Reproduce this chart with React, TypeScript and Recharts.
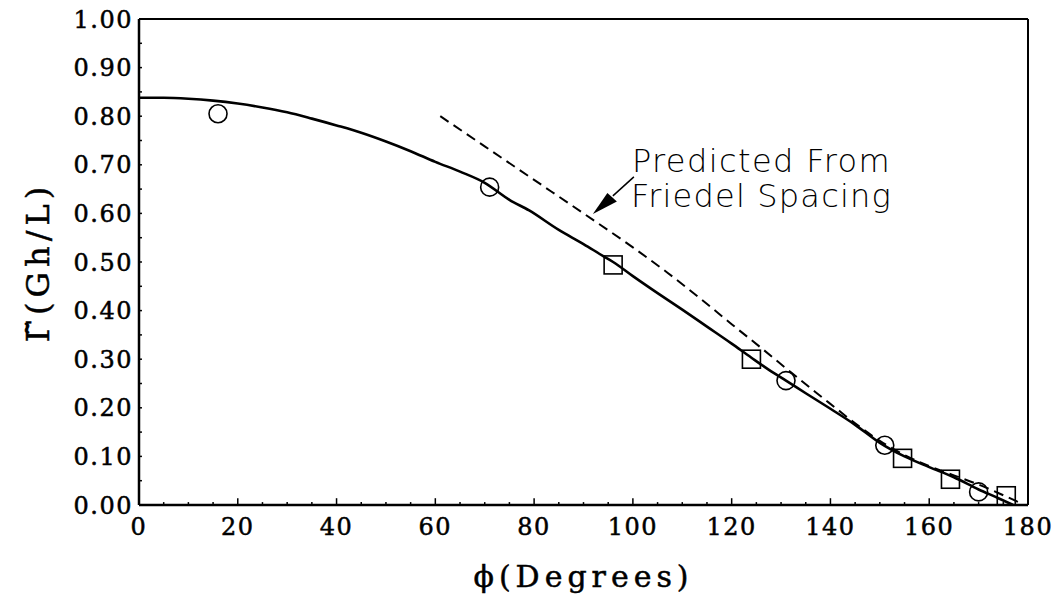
import React from 'react';
import {
  ComposedChart,
  Line,
  Scatter,
  XAxis,
  YAxis,
  ReferenceLine,
  ReferenceDot,
} from 'recharts';

// ---- tick labels ----
const xTicks = [0, 20, 40, 60, 80, 100, 120, 140, 160, 180];
const yTicks = [0, 0.1, 0.2, 0.3, 0.4, 0.5, 0.6, 0.7, 0.8, 0.9, 1.0];
const xMinorTicks = [5, 10, 15, 25, 30, 35, 45, 50, 55, 65, 70, 75, 85, 90, 95, 105, 110, 115, 125, 130, 135, 145, 150, 155, 165, 170, 175];
const xMajorInner = [20, 40, 60, 80, 100, 120, 140, 160];
const yInnerTicks = [0.05, 0.1, 0.15, 0.2, 0.25, 0.3, 0.35, 0.4, 0.45, 0.5, 0.55, 0.6, 0.65, 0.7, 0.75, 0.8, 0.85, 0.9, 0.95];

// ---- series ----
const solidCurve = [
  { x: 0, y: 0.838 }, { x: 5, y: 0.838 }, { x: 10, y: 0.836 }, { x: 15, y: 0.832 },
  { x: 20, y: 0.826 }, { x: 25, y: 0.818 }, { x: 30, y: 0.808 }, { x: 35, y: 0.795 },
  { x: 40, y: 0.781 }, { x: 45, y: 0.766 }, { x: 50, y: 0.748 }, { x: 55, y: 0.728 },
  { x: 60, y: 0.706 }, { x: 65, y: 0.686 }, { x: 70, y: 0.663 }, { x: 75, y: 0.628 },
  { x: 79, y: 0.606 }, { x: 85, y: 0.566 }, { x: 90, y: 0.537 }, { x: 94, y: 0.512 },
  { x: 96, y: 0.5 }, { x: 100, y: 0.471 }, { x: 105, y: 0.436 }, { x: 110, y: 0.402 },
  { x: 115, y: 0.367 }, { x: 120, y: 0.332 }, { x: 124, y: 0.303 }, { x: 128, y: 0.275 },
  { x: 131, y: 0.256 }, { x: 135, y: 0.23 }, { x: 140, y: 0.198 }, { x: 145, y: 0.165 },
  { x: 150, y: 0.128 }, { x: 155, y: 0.1 }, { x: 160, y: 0.078 }, { x: 165, y: 0.057 },
  { x: 170, y: 0.032 }, { x: 174, y: 0.014 }, { x: 177, y: 0.0 },
];

const friedelCurve = [
  { x: 61, y: 0.8 }, { x: 70, y: 0.738 }, { x: 80, y: 0.669 }, { x: 90, y: 0.6 },
  { x: 100, y: 0.53 }, { x: 107, y: 0.478 }, { x: 114, y: 0.422 }, { x: 120, y: 0.372 },
  { x: 126, y: 0.323 }, { x: 132, y: 0.273 }, { x: 137, y: 0.232 }, { x: 141, y: 0.2 },
  { x: 145, y: 0.168 }, { x: 150, y: 0.132 }, { x: 155, y: 0.103 }, { x: 160, y: 0.08 },
  { x: 165, y: 0.061 }, { x: 170, y: 0.042 }, { x: 175, y: 0.02 }, { x: 178.5, y: 0.004 },
];

const circlePoints = [
  { x: 16, y: 0.805 }, { x: 71, y: 0.654 }, { x: 131, y: 0.256 }, { x: 151, y: 0.123 }, { x: 170, y: 0.027 },
];

const squarePoints = [
  { x: 96, y: 0.494 }, { x: 124, y: 0.3 }, { x: 154.6, y: 0.096 }, { x: 164.3, y: 0.053 }, { x: 175.6, y: 0.019 },
];

const annotationLines = ['Predicted From', 'Friedel Spacing'];
const arrowTip = { x: 91.9, y: 0.599 };

const serif = 'DejaVu Serif';
const sans = 'DejaVu Sans';

const CircleMarker = (props: any) => {
  const { cx, cy } = props;
  if (cx == null || cy == null) return null;
  return <circle cx={cx} cy={cy} r={9} fill="none" stroke="#000" strokeWidth={1.6} />;
};

const SquareMarker = (props: any) => {
  const { cx, cy } = props;
  if (cx == null || cy == null) return null;
  return <rect x={cx - 9} y={cy - 9} width={18} height={18} fill="none" stroke="#000" strokeWidth={1.6} />;
};

const Annotation = (props: any) => {
  const { cx, cy } = props;
  if (cx == null || cy == null) return null;
  return (
    <g>
      <line x1={cx + 20} y1={cy - 18} x2={cx + 41} y2={cy - 37} stroke="#000" strokeWidth={1.5} />
      <polygon
        points={`${cx},${cy} ${cx + 14.5},${cy - 21} ${cx + 24},${cy - 12.5}`}
        fill="#000"
      />
      <text
        x={cx + 39}
        y={cy - 42}
        fontFamily={sans}
        fontWeight={200}
        fontSize={32}
        letterSpacing={1.4}
        fill="#000"
      >
        {annotationLines[0]}
      </text>
      <text
        x={cx + 38}
        y={cy - 7}
        fontFamily={sans}
        fontWeight={200}
        fontSize={32}
        letterSpacing={1.2}
        fill="#000"
      >
        {annotationLines[1]}
      </text>
    </g>
  );
};

const tickStyle = {
  fill: '#000',
  stroke: '#000',
  strokeWidth: 0.5,
  fontSize: 24,
  fontFamily: serif,
  letterSpacing: 1.5,
};

export default function App() {
  return (
    <div style={{ position: 'absolute', left: 0, top: 0, width: 1061, height: 599, background: '#fff' }}>
      <ComposedChart
        width={1061}
        height={599}
        margin={{ top: 19, right: 33, bottom: 0, left: 0 }}
      >
        <XAxis
          dataKey="x"
          type="number"
          domain={[0, 180]}
          ticks={xTicks}
          allowDataOverflow
          height={94}
          axisLine={{ stroke: '#000', strokeWidth: 2.5 }}
          tickLine={false}
          tickMargin={7}
          tick={tickStyle}
          interval={0}
          label={{
            value: '\u03D5(Degrees)',
            position: 'insideBottom',
            offset: 12,
            fill: '#000',
            style: { fontSize: 30, fontFamily: serif, letterSpacing: 5, fill: '#000', stroke: '#000', strokeWidth: 0.5 },
          }}
        />
        <YAxis
          dataKey="y"
          type="number"
          domain={[0, 1]}
          ticks={yTicks}
          allowDataOverflow
          width={139}
          axisLine={{ stroke: '#000', strokeWidth: 2.5 }}
          tickLine={false}
          tickMargin={0}
          interval={0}
          tickFormatter={(v: number) => v.toFixed(2)}
          tick={tickStyle}
          label={{
            value: '\u0393\u0303(Gh/L)',
            angle: -90,
            position: 'insideLeft',
            offset: 38,
            style: { fontSize: 32, fontFamily: serif, letterSpacing: 5, fill: '#000', stroke: '#000', strokeWidth: 0.5, textAnchor: 'middle' },
          }}
        />

        {/* frame: top and right */}
        <ReferenceLine y={1} stroke="#000" strokeWidth={2} ifOverflow="visible" />
        <ReferenceLine x={180} stroke="#000" strokeWidth={2} ifOverflow="visible" />

        {/* inner tick marks */}
        {xMajorInner.map((v) => (
          <ReferenceLine
            key={`xM${v}`}
            segment={[{ x: v, y: 0 }, { x: v, y: 0.014 }]}
            stroke="#000"
            strokeWidth={1.5}
            ifOverflow="visible"
          />
        ))}
        {xMinorTicks.map((v) => (
          <ReferenceLine
            key={`xm${v}`}
            segment={[{ x: v, y: 0 }, { x: v, y: 0.006 }]}
            stroke="#000"
            strokeWidth={1.5}
            ifOverflow="visible"
          />
        ))}
        {yInnerTicks.map((v) => (
          <ReferenceLine
            key={`y${v}`}
            segment={[{ x: 0, y: v }, { x: 0.6, y: v }]}
            stroke="#000"
            strokeWidth={1.5}
            ifOverflow="visible"
          />
        ))}

        <Line
          data={friedelCurve}
          dataKey="y"
          type="monotone"
          stroke="#000"
          strokeWidth={2}
          strokeDasharray="10 6"
          dot={false}
          activeDot={false}
          isAnimationActive={false}
        />
        <Line
          data={solidCurve}
          dataKey="y"
          type="monotone"
          stroke="#000"
          strokeWidth={2.6}
          dot={false}
          activeDot={false}
          isAnimationActive={false}
        />
        <Scatter data={circlePoints} dataKey="y" shape={CircleMarker} isAnimationActive={false} />
        <Scatter data={squarePoints} dataKey="y" shape={SquareMarker} isAnimationActive={false} />

        <ReferenceDot x={arrowTip.x} y={arrowTip.y} r={0} shape={Annotation} ifOverflow="visible" />
      </ComposedChart>
    </div>
  );
}
